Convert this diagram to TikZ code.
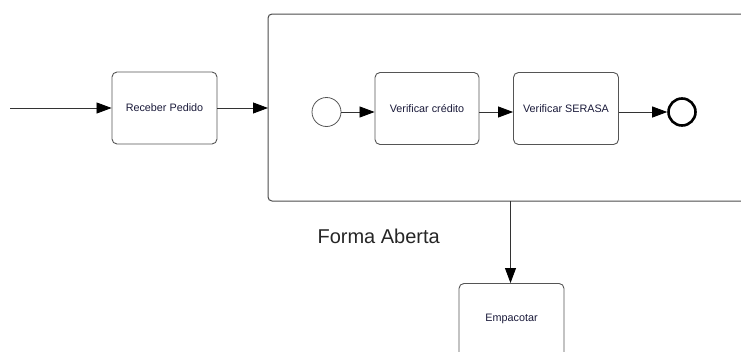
\documentclass[tikz,border=0pt]{standalone}
\usepackage{fontspec}
\setmainfont{Liberation Sans}
\usetikzlibrary{arrows.meta}
\definecolor{edge}{HTML}{555555}
\definecolor{label}{HTML}{1A1A3A}
\begin{document}
\begin{tikzpicture}[x=1pt,y=-1pt,
  task/.style={draw=edge, line width=0.9pt, rounded corners=5pt, fill=white,
    font=\fontsize{10.8}{12}\selectfont, text=label},
  flow/.style={draw=black!80, line width=0.8pt, -{Triangle[length=15pt,width=11pt,color=black]}},
  startev/.style={circle, draw=edge, line width=0.8pt, minimum size=29pt, inner sep=0pt},
  endev/.style={circle, draw=black, line width=2.6pt, minimum size=27pt, inner sep=0pt}]
\useasboundingbox (0,0) rectangle (741,351);
\begin{scope}
\clip (0,0) rectangle (741,351);
% subprocess frame, running past the right edge
\draw[edge!90!black, line width=1pt, rounded corners=4pt] (268,14) rectangle (800,201);
\coordinate (subL) at (268,108);
\coordinate (subB) at (510.5,201);
\coordinate (src) at (10,108);

\node[task, minimum width=105pt, minimum height=72pt] (receber) at (164.5,108) {Receber Pedido};
\node[startev] (start) at (326.5,112) {};
\node[task, minimum width=104pt, minimum height=72pt] (credito) at (427,108.5) {Verificar crédito};
\node[task, minimum width=105pt, minimum height=72pt] (serasa) at (566,108.5) {Verificar SERASA};
\node[endev] (fim) at (682,112) {};
\node[task, anchor=north, minimum width=105pt, minimum height=120pt] (empacotar) at (511.5,283) {};
\node[font=\fontsize{10.8}{12}\selectfont, text=label] (emptxt) at (511.5,319) {Empacotar};

\node[font=\fontsize{20}{24}\selectfont, text=black!85, anchor=west] (forma) at (314,236) {Forma Aberta};

\draw[flow] (src) -- (receber.west);
\draw[flow] (receber.east) -- (subL);
\draw[flow] (start.east) -- (credito.west |- start.east);
\draw[flow] (credito.east |- start.east) -- (serasa.west |- start.east);
\draw[flow] (serasa.east |- fim.west) -- (fim.west);
\draw[flow] (subB) -- (subB |- empacotar.north);
\end{scope}
\end{tikzpicture}
\end{document}
